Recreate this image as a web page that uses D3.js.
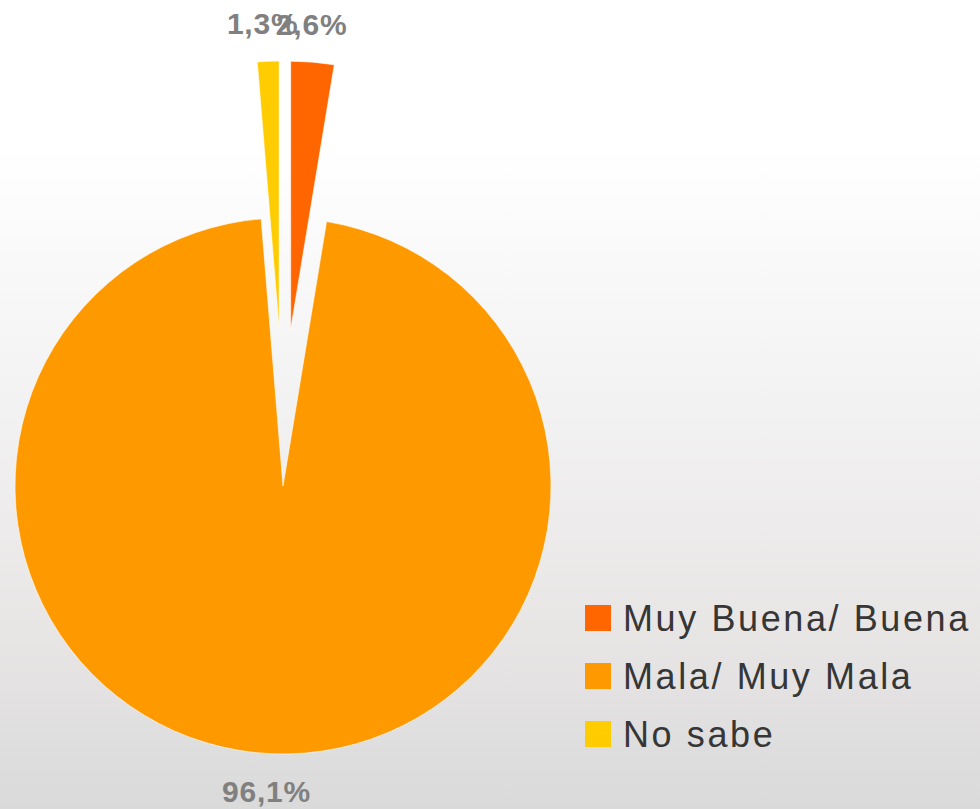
<!DOCTYPE html>
<html><head><meta charset="utf-8">
<script src="https://cdn.jsdelivr.net/npm/d3@7"></script>
<style>html,body{margin:0;padding:0;}svg{display:block;}</style>
</head><body>
<svg id="chart" width="980" height="809"></svg>
<script>
const categories = ["Muy Buena/ Buena", "Mala/ Muy Mala", "No sabe"];
const values = [2.6, 96.1, 1.3];
const labels = ["2,6%", "96,1%", "1,3%"];
const colors = ["#ff6600", "#ff9900", "#ffcc00"];

const W = 980, H = 809;
const cx = 283, cy = 486, R = 268;
const explode = [157, 0, 157];
const explodeAngleFactor = 0.6;
const labelR = 306;

const svg = d3.select("#chart");
const defs = svg.append("defs");
const grad = defs.append("linearGradient").attr("id","bg").attr("x1",0).attr("y1",0).attr("x2",0).attr("y2",1);
[[0,"#ffffff"],[0.18,"#ffffff"],[0.5,"#f3f2f2"],[0.78,"#e8e5e5"],[1,"#dadada"]].forEach(([o,c])=>
  grad.append("stop").attr("offset",o).attr("stop-color",c));
svg.append("rect").attr("width",W).attr("height",H).attr("fill","url(#bg)");

const pie = d3.pie().sort(null).value(d=>d).startAngle(0).endAngle(2*Math.PI);
const arcs = pie(values);
const arc = d3.arc().innerRadius(0).outerRadius(R);

const g = svg.append("g").attr("transform",`translate(${cx},${cy})`);
arcs.forEach((a,i)=>{
  let mid = (a.startAngle+a.endAngle)/2;
  let em = mid > Math.PI ? mid - 2*Math.PI : mid;
  em = Math.abs(em) < Math.PI/2 ? em*explodeAngleFactor : em;
  const dx = Math.sin(em)*explode[i], dy = -Math.cos(em)*explode[i];
  g.append("path").attr("d",arc(a)).attr("fill",colors[i])
    .attr("stroke","#ffffff").attr("stroke-width",0.6)
    .attr("transform",`translate(${dx},${dy})`);
  const lx = dx + Math.sin(mid)*labelR - 4, ly = dy - Math.cos(mid)*labelR;
  g.append("text").attr("x",lx).attr("y",ly).attr("text-anchor","middle")
    .attr("dominant-baseline","central")
    .attr("font-family","'Liberation Sans', Arial, sans-serif").attr("font-weight","bold")
    .attr("font-size",30).attr("letter-spacing",0.8).attr("fill","#808080")
    .text(labels[i]);
});

const legend = svg.append("g").attr("transform","translate(585,631)");
categories.forEach((c,i)=>{
  const row = legend.append("g").attr("transform",`translate(0,${i*58})`);
  row.append("rect").attr("x",0).attr("y",-26).attr("width",26).attr("height",26).attr("fill",colors[i]);
  row.append("text").attr("x",38).attr("y",0)
    .attr("font-family","'Liberation Sans', Arial, sans-serif")
    .attr("font-size",36).attr("letter-spacing",2.6).attr("fill","#363636").text(c);
});
</script>
</body></html>
